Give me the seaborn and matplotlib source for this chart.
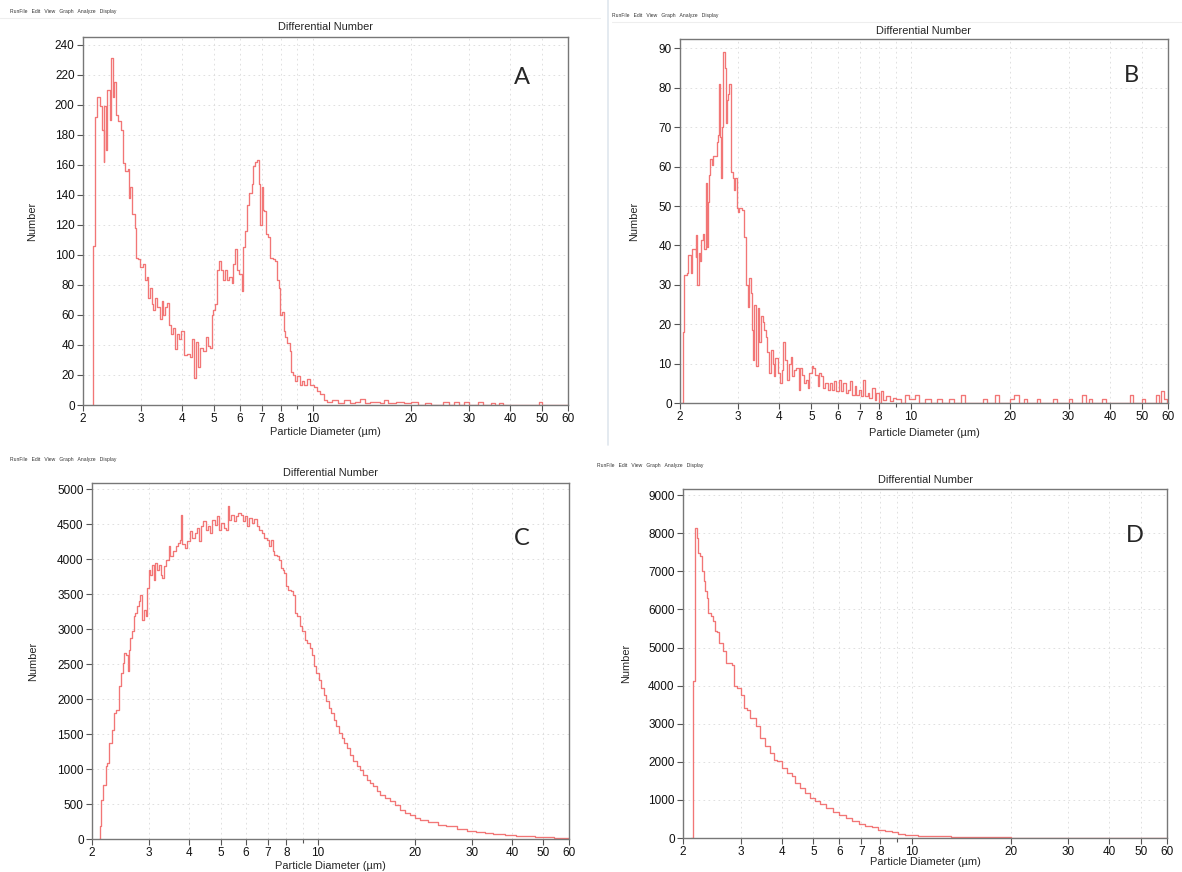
import matplotlib
matplotlib.use("Agg")
import matplotlib.pyplot as plt
from matplotlib.ticker import NullFormatter
import seaborn as sns

# ---- data (diameter in um, count per bin) ----
a_diam = [2.14, 2.15, 2.18, 2.21, 2.25, 2.28, 2.31, 2.32, 2.35, 2.36, 2.41, 2.43, 2.46, 2.49,
          2.52, 2.56, 2.61, 2.65, 2.68, 2.74, 2.76, 2.79, 2.83, 2.87, 2.90, 2.95, 2.98, 3.05,
          3.09, 3.13, 3.16, 3.20, 3.24, 3.27, 3.31, 3.37, 3.42, 3.47, 3.51, 3.55, 3.61, 3.66,
          3.72, 3.77, 3.81, 3.87, 3.93, 3.99, 4.06, 4.14, 4.23, 4.30, 4.36, 4.42, 4.49, 4.54,
          4.65, 4.74, 4.82, 4.87, 4.93, 4.99, 5.05, 5.11, 5.20, 5.25, 5.33, 5.41, 5.48, 5.58,
          5.67, 5.74, 5.80, 5.87, 5.98, 6.08, 6.15, 6.22, 6.30, 6.41, 6.52, 6.60, 6.68, 6.79,
          6.87, 6.92, 7.00, 7.05, 7.14, 7.22, 7.34, 7.43, 7.57, 7.70, 7.79, 7.88, 7.98, 8.07,
          8.17, 8.26, 8.36, 8.52, 8.60, 8.72, 8.86, 8.97, 9.14, 9.29, 9.44, 9.62, 9.85, 10.08,
          10.32, 10.57, 10.82, 11.08, 11.5, 12.0, 12.5, 13.0, 13.5, 14.0, 14.5, 15.0, 16.0,
          16.5, 17.0, 18.0, 19.0, 20.0, 21.0, 22.0, 23.0, 25.0, 26.0, 27.0, 28.0, 29.0, 30.0,
          32.0, 33.0, 35.0, 36.0, 37.0, 38.0, 49.0, 50.0, 60.0]
a_count = [0, 106, 192, 205, 199, 183, 162, 199, 170, 210, 190, 231, 205, 215,
           193, 189, 183, 161, 156, 157, 138, 145, 127, 118, 98, 97, 92, 94,
           83, 85, 71, 78, 67, 63, 71, 65, 57, 69, 60, 65, 68, 53,
           47, 51, 37, 47, 44, 49, 33, 34, 32, 44, 18, 42, 25, 38,
           36, 45, 39, 38, 60, 63, 67, 90, 96, 90, 83, 90, 83, 85,
           81, 94, 104, 90, 87, 76, 105, 116, 133, 141, 147, 159, 162, 163,
           147, 120, 145, 130, 129, 114, 112, 98, 97, 96, 83, 78, 60, 62,
           49, 45, 41, 36, 22, 20, 16, 19, 13, 16, 13, 17, 13, 12,
           9, 7, 3, 2, 3, 1, 3, 1, 2, 4, 1, 2, 1,
           3, 1, 2, 1, 2, 0, 1, 0, 2, 0, 2, 0, 2, 0,
           2, 0, 1.5, 0, 1, 0, 2, 0, 0]

b_diam = [2.02, 2.04, 2.06, 2.10, 2.11, 2.16, 2.17, 2.23, 2.24, 2.25, 2.28, 2.30, 2.32, 2.34,
          2.37, 2.39, 2.41, 2.43, 2.45, 2.47, 2.50, 2.52, 2.58, 2.61, 2.62, 2.64, 2.66, 2.68,
          2.70, 2.74, 2.76, 2.77, 2.80, 2.82, 2.85, 2.89, 2.91, 2.94, 2.97, 3.00, 3.02, 3.08,
          3.13, 3.17, 3.21, 3.24, 3.28, 3.30, 3.33, 3.36, 3.40, 3.44, 3.48, 3.52, 3.56, 3.60,
          3.64, 3.68, 3.73, 3.77, 3.82, 3.84, 3.89, 3.95, 4.02, 4.07, 4.11, 4.17, 4.23, 4.28,
          4.33, 4.38, 4.43, 4.48, 4.57, 4.61, 4.68, 4.75, 4.81, 4.87, 4.93, 5.01, 5.07, 5.14,
          5.22, 5.28, 5.35, 5.41, 5.51, 5.60, 5.67, 5.78, 5.87, 5.94, 6.04, 6.15, 6.25, 6.34,
          6.44, 6.52, 6.64, 6.75, 6.83, 6.95, 7.07, 7.18, 7.28, 7.40, 7.49, 7.63, 7.76, 7.85,
          8.00, 8.13, 8.26, 8.42, 8.62, 8.82, 9.0, 9.3, 9.6, 9.9, 10.3, 10.6, 11.0, 11.5,
          12.0, 12.4, 13.0, 13.5, 14.2, 14.6, 16.5, 17.0, 18.0, 18.5, 20.0, 20.5, 21.2, 22.0,
          22.5, 24.0, 24.6, 27.0, 27.6, 30.0, 30.7, 33.0, 33.8, 34.5, 35.3, 38.0, 39.0, 46.0,
          47.0, 50.0, 51.2, 55.0, 56.2, 57.0, 58.3, 59.5, 60.0]
b_count = [0, 18, 32.5, 33, 37.6, 33, 39, 37, 42.6, 30, 38, 36, 41.5, 43,
           39, 55.8, 39.5, 51, 57.9, 62, 60.3, 62.6, 66.3, 68, 81, 67.4, 57, 70,
           89, 85, 71, 77, 78.5, 81, 58.7, 57, 54, 57, 49.4, 48.6, 49.4, 49,
           42.2, 30, 24.4, 31.7, 28, 18.5, 10.9, 25, 9.3, 24, 15.5, 22, 20.5, 18.5,
           16.8, 13, 7.6, 13.4, 10, 6.8, 11.4, 7.6, 5, 8.4, 15.6, 11, 5.9, 10,
           11.8, 6.8, 8.4, 8.9, 3.4, 8.9, 7.2, 5, 5.9, 3.8, 7.6, 9.3, 8.9, 7.2,
           4.2, 7.6, 6.8, 3.8, 5, 3.4, 5, 3.4, 5.5, 3, 5.9, 3, 5, 2.5,
           3.4, 5.5, 2.1, 4.2, 2.1, 3.4, 1.7, 5.9, 1.7, 2.5, 1.3, 3.8, 0.8, 2.5,
           0, 3, 0.8, 1.7, 0.4, 1.3, 1, 0, 2, 1, 2, 0, 1, 0,
           1, 0, 1, 0, 2, 0, 1, 0, 2, 0, 1, 2, 0, 1,
           0, 1, 0, 1, 0, 1, 0, 2, 0, 1, 0, 1, 0, 2,
           0, 1, 0, 2, 0, 3, 1, 0, 0]

c_diam = [2.10, 2.12, 2.14, 2.17, 2.21, 2.23, 2.26, 2.30, 2.34, 2.38, 2.42, 2.46, 2.49, 2.52,
          2.55, 2.58, 2.60, 2.63, 2.66, 2.69, 2.72, 2.76, 2.79, 2.82, 2.86, 2.89, 2.93, 2.96,
          3.00, 3.03, 3.07, 3.11, 3.14, 3.18, 3.22, 3.26, 3.30, 3.34, 3.40, 3.46, 3.50, 3.57,
          3.63, 3.69, 3.74, 3.78, 3.80, 3.87, 3.94, 4.02, 4.09, 4.16, 4.22, 4.29, 4.36, 4.42,
          4.50, 4.57, 4.64, 4.72, 4.80, 4.87, 4.95, 5.03, 5.13, 5.19, 5.26, 5.32, 5.38, 5.49,
          5.58, 5.67, 5.78, 5.85, 5.95, 6.04, 6.14, 6.24, 6.36, 6.47, 6.59, 6.71, 6.84, 6.97,
          7.05, 7.17, 7.26, 7.34, 7.49, 7.58, 7.67, 7.80, 7.89, 7.98, 8.08, 8.24, 8.38, 8.48,
          8.64, 8.79, 8.93, 9.11, 9.28, 9.44, 9.60, 9.74, 9.90, 10.07, 10.26, 10.46, 10.64,
          10.82, 11.03, 11.24, 11.43, 11.62, 11.85, 12.08, 12.31, 12.58, 12.88, 13.19, 13.51,
          13.84, 14.18, 14.52, 14.87, 15.23, 15.60, 16.17, 16.76, 17.37, 18.00, 18.66, 19.34,
          20.05, 20.78, 22.0, 23.5, 25.0, 27.0, 29.0, 31.0, 33.0, 35.0, 38.0, 41.0, 44.0,
          47.0, 50.0, 54.0, 57.0, 60.0]
c_count = [0, 181, 562, 776, 1038, 1086, 1371, 1562, 1800, 1848, 2181, 2371, 2514, 2657,
           2630, 2395, 2705, 2871, 2967, 3181, 3229, 3324, 3395, 3490, 3134, 3276, 3181, 3586,
           3848, 3776, 3919, 3705, 3943, 3848, 3919, 3776, 3729, 3895, 3990, 4181, 4038, 4110,
           4181, 4229, 4276, 4633, 4210, 4157, 4252, 4395, 4300, 4371, 4443, 4252, 4467, 4538,
           4419, 4467, 4371, 4562, 4490, 4610, 4419, 4514, 4443, 4420, 4752, 4562, 4633, 4538,
           4610, 4657, 4633, 4538, 4610, 4467, 4586, 4514, 4571, 4467, 4419, 4371, 4300, 4276,
           4181, 4276, 4110, 4062, 4038, 3990, 3871, 3848, 3800, 3610, 3562, 3538, 3490, 3229,
           3181, 3038, 2967, 2848, 2800, 2729, 2633, 2467, 2371, 2276, 2157, 2062, 1967,
           1871, 1800, 1705, 1610, 1514, 1443, 1371, 1300, 1205, 1110, 1038, 990,
           919, 848, 800, 752, 681, 633, 586, 538, 490, 419, 371, 348,
           300, 276, 240, 205, 180, 145, 115, 95, 80, 68, 55, 45, 36,
           28, 22, 14, 8, 5]

d_diam = [2.12, 2.15, 2.17, 2.21, 2.23, 2.26, 2.28, 2.32, 2.34, 2.37, 2.39, 2.44, 2.47, 2.51,
          2.54, 2.58, 2.64, 2.70, 2.77, 2.82, 2.87, 2.93, 3.00, 3.06, 3.13, 3.21, 3.33, 3.44,
          3.57, 3.69, 3.78, 3.87, 4.00, 4.14, 4.29, 4.39, 4.54, 4.70, 4.87, 5.04, 5.22, 5.47,
          5.72, 5.99, 6.28, 6.57, 6.88, 7.21, 7.54, 7.90, 8.27, 8.66, 9.07, 9.50, 9.95, 10.41,
          11.16, 11.96, 13.11, 14.72, 16.52, 20.0, 25.0, 30.0, 34.0, 60.0]
d_count = [0, 4112, 8137, 7875, 7481, 7394, 7000, 6737, 6475, 6300, 5906, 5819, 5687, 5425,
           5400, 5119, 4900, 4594, 4600, 4550, 3981, 3937, 3762, 3412, 3369, 3150, 2931, 2625,
           2406, 2231, 2056, 2012, 1837, 1706, 1619, 1444, 1312, 1181, 1050, 980, 892, 787,
           682, 595, 525, 437, 367, 306, 280, 219, 175, 149, 114, 87, 70, 61,
           52, 44, 35, 26, 17, 10, 6, 4, 0, 0]

XTICKS = [2, 3, 4, 5, 6, 7, 8, 10, 20, 30, 40, 50, 60]
XTICK_LABELS = [str(t) for t in XTICKS]
MENU = "RunFile   Edit   View   Graph   Analyze   Display"

W, H = 1182, 872
LINE_COLOR = '#f27676'
GRID_COLOR = '#dadada'


def px_rect(left, top, right, bottom):
    return [left / W, 1 - bottom / H, (right - left) / W, (bottom - top) / H]


def fig_text(x, y, s, **kw):
    fig.text(x / W, 1 - y / H, s, **kw)


sns.set_style("white")
plt.rcParams['font.family'] = ['Liberation Sans', 'DejaVu Sans']

fig = plt.figure(figsize=(W / 100, H / 100), dpi=100)
fig.patch.set_facecolor('white')

panels = [
    # letter, x, y, ymax, ytick step, axes box (l, t, r, b), title y, ylabel x, xlabel y,
    # letter pos, menu pos
    ('A', a_diam, a_count, 245, 20, (83, 37, 568, 405), 27, 32, 432, (522, 78), (10, 12)),
    ('B', b_diam, b_count, 92.4, 10, (680, 39, 1168, 403), 31, 634, 433, (1131, 76), (612, 16)),
    ('C', c_diam, c_count, 5086, 500, (92, 483, 569, 839), 473, 33, 866, (522, 538), (10, 459)),
    ('D', d_diam, d_count, 9163, 1000, (683, 489, 1167, 838), 480, 626, 862, (1135, 535), (597, 466)),
]

for letter, xs, ys, ymax, ystep, box, title_y, ylab_x, xlab_y, letter_xy, menu_xy in panels:
    ax = fig.add_axes(px_rect(*box))
    sns.lineplot(x=xs, y=ys, ax=ax, drawstyle='steps-post', estimator=None, sort=False,
                 color=LINE_COLOR, lw=0.95)
    ax.set_xscale('log')
    ax.set_xlim(2, 60)
    ax.set_ylim(0, ymax)
    ax.set_xticks(XTICKS, XTICK_LABELS)
    ax.set_xticks([9], minor=True)
    ax.xaxis.set_minor_formatter(NullFormatter())
    yt = [ystep * i for i in range(int(ymax // ystep) + 1)]
    ax.set_yticks(yt)
    ax.grid(True, which='both', axis='x', ls=(0, (2, 4)), color=GRID_COLOR, lw=0.6)
    ax.grid(True, which='major', axis='y', ls=(0, (2, 4)), color=GRID_COLOR, lw=0.6)
    ax.set_axisbelow(True)
    for sp in ax.spines.values():
        sp.set_color('#777777')
        sp.set_linewidth(1.0)
    ax.tick_params(axis='both', which='both', bottom=True, left=True, direction='out',
                   length=4, width=0.8, color='#555555', labelsize=8.5, pad=2,
                   labelcolor='#111111')
    ax.tick_params(axis='x', which='minor', length=3)
    ax.set_xlabel('')
    ax.set_ylabel('')

    cx = (box[0] + box[2]) / 2
    cy = (box[1] + box[3]) / 2
    fig_text(cx, title_y, 'Differential Number', ha='center', va='center', fontsize=7.9)
    fig_text(ylab_x, cy, 'Number', ha='center', va='center', rotation=90, fontsize=7.9)
    fig_text(cx, xlab_y, 'Particle Diameter (µm)', ha='center', va='center', fontsize=7.9)
    fig_text(letter_xy[0], letter_xy[1], letter, ha='center', va='center', fontsize=17,
             family=['Lato', 'DejaVu Sans'])
    fig_text(menu_xy[0], menu_xy[1], MENU, ha='left', va='center', fontsize=3.6,
             color='#333333')

# faint window borders of the original screenshots
fig.add_artist(plt.Line2D([608 / W, 608 / W], [1 - 0 / H, 1 - 445 / H], color='#dfe6ee', lw=1.2))
fig.add_artist(plt.Line2D([0, 600 / W], [1 - 18 / H, 1 - 18 / H], color='#eeeeee', lw=0.8))
fig.add_artist(plt.Line2D([612 / W, 1], [1 - 22 / H, 1 - 22 / H], color='#eeeeee', lw=0.8))

fig.savefig('out.png', dpi=100)
plt.close(fig)
